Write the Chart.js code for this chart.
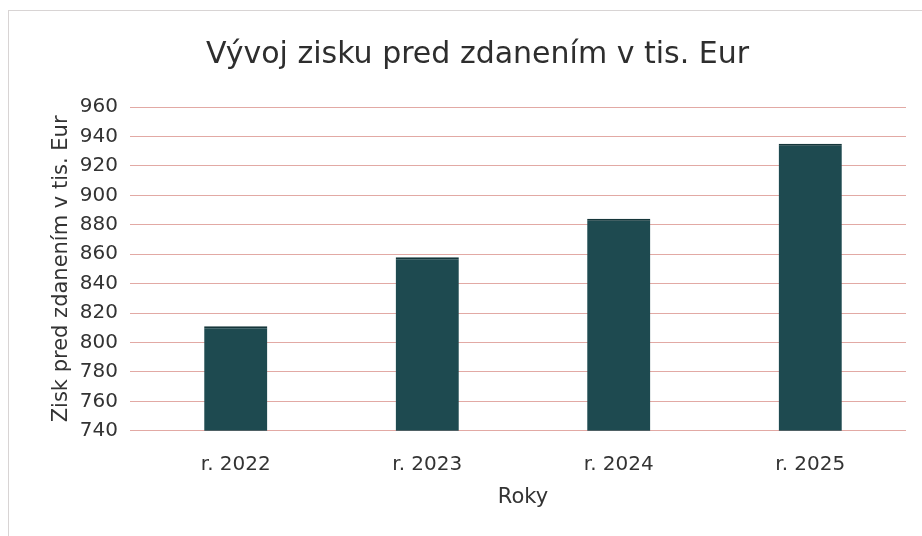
<!DOCTYPE html>
<html>
<head>
<meta charset="utf-8">
<script src="https://cdn.jsdelivr.net/npm/chart.js@4"></script>
<style>
  html, body { margin: 0; padding: 0; background: #fff; }
  #wrap { position: relative; width: 922px; height: 536px; }
  #frame { position: absolute; left: 8px; top: 10px; right: 0; bottom: 0; border-left: 1px solid #d8d4d4; border-top: 1px solid #d8d4d4; }
  canvas { position: absolute; left: 0; top: 0; }
</style>
</head>
<body>
<div id="wrap">
  <div id="frame"></div>
  <canvas id="chart" width="922" height="536"></canvas>
</div>
<script>
// dáta grafu
const years = ['r. 2022', 'r. 2023', 'r. 2024', 'r. 2025'];
const profit = [811, 858, 884, 935];
const yMin = 740;
const yMax = 960;
const yStep = 20;

const fontFamily = '"DejaVu Sans", Verdana, sans-serif';

const ctx = document.getElementById('chart').getContext('2d');
new Chart(ctx, {
    type: 'bar',
    data: {
        labels: years,
        datasets: [{
            label: 'Zisk pred zdanením',
            data: profit,
            backgroundColor: '#1e4a50',
            borderColor: '#15363a',
            borderWidth: { top: 2, left: 0, right: 0, bottom: 0 },
            borderSkipped: 'bottom',
            barPercentage: 0.33,
            categoryPercentage: 1
        }]
    },
    options: {
        responsive: false,
        animation: false,
        layout: { padding: { left: 49, right: 16, top: 37, bottom: 26 } },
        plugins: {
            legend: { display: false },
            tooltip: { enabled: false },
            title: {
                display: true,
                text: 'Vývoj zisku pred zdanením v tis. Eur',
                color: '#2e2e2e',
                font: { family: fontFamily, size: 30, weight: 'normal' },
                padding: { top: 0, bottom: 34 }
            }
        },
        scales: {
            x: {
                grid: { display: false, drawTicks: false },
                border: { display: false },
                ticks: { color: '#333', font: { family: fontFamily, size: 20 }, padding: 22 },
                title: {
                    display: true,
                    text: 'Roky',
                    color: '#333',
                    font: { family: fontFamily, size: 21 },
                    padding: { top: -14, bottom: 0 }
                }
            },
            y: {
                min: yMin,
                max: yMax,
                afterFit: scale => { scale.width = 91; },
                border: { display: false },
                grid: { color: '#e2a9a4', lineWidth: 1, tickLength: 10, drawTicks: true },
                ticks: { stepSize: yStep, color: '#333', font: { family: fontFamily, size: 20 }, padding: 12 },
                title: {
                    display: true,
                    text: 'Zisk pred zdanením v tis. Eur',
                    color: '#333',
                    font: { family: fontFamily, size: 21 },
                    padding: { top: 0, bottom: 0 }
                }
            }
        }
    }
});
</script>
</body>
</html>
